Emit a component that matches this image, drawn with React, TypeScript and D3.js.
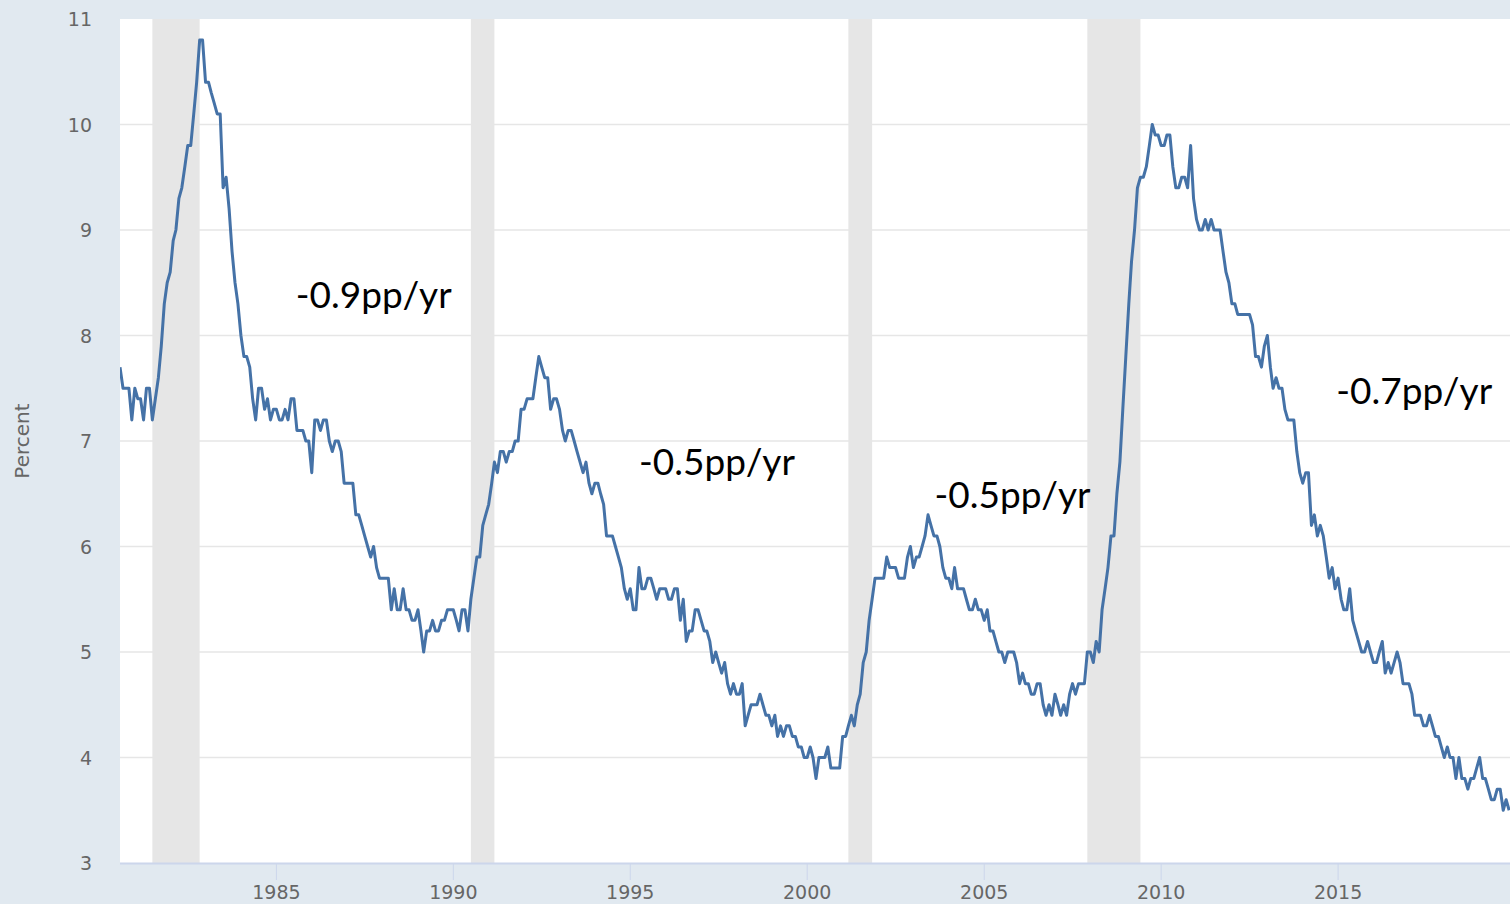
import React from "react";
import * as d3 from "d3";

const W = 1510;
const H = 904;

// Monthly unemployment rate, starting Aug 1980
const startYear = 1980;
const startMonth = 7; // August (0-based)
const rate1980 = [7.7, 7.5, 7.5, 7.5, 7.2];
const rate1981 = [7.5, 7.4, 7.4, 7.2, 7.5, 7.5, 7.2, 7.4, 7.6, 7.9, 8.3, 8.5];
const rate1982 = [8.6, 8.9, 9.0, 9.3, 9.4, 9.6, 9.8, 9.8, 10.1, 10.4, 10.8, 10.8];
const rate1983 = [10.4, 10.4, 10.3, 10.2, 10.1, 10.1, 9.4, 9.5, 9.2, 8.8, 8.5, 8.3];
const rate1984 = [8.0, 7.8, 7.8, 7.7, 7.4, 7.2, 7.5, 7.5, 7.3, 7.4, 7.2, 7.3];
const rate1985 = [7.3, 7.2, 7.2, 7.3, 7.2, 7.4, 7.4, 7.1, 7.1, 7.1, 7.0, 7.0];
const rate1986 = [6.7, 7.2, 7.2, 7.1, 7.2, 7.2, 7.0, 6.9, 7.0, 7.0, 6.9, 6.6];
const rate1987 = [6.6, 6.6, 6.6, 6.3, 6.3, 6.2, 6.1, 6.0, 5.9, 6.0, 5.8, 5.7];
const rate1988 = [5.7, 5.7, 5.7, 5.4, 5.6, 5.4, 5.4, 5.6, 5.4, 5.4, 5.3, 5.3];
const rate1989 = [5.4, 5.2, 5.0, 5.2, 5.2, 5.3, 5.2, 5.2, 5.3, 5.3, 5.4, 5.4];
const rate1990 = [5.4, 5.3, 5.2, 5.4, 5.4, 5.2, 5.5, 5.7, 5.9, 5.9, 6.2, 6.3];
const rate1991 = [6.4, 6.6, 6.8, 6.7, 6.9, 6.9, 6.8, 6.9, 6.9, 7.0, 7.0, 7.3];
const rate1992 = [7.3, 7.4, 7.4, 7.4, 7.6, 7.8, 7.7, 7.6, 7.6, 7.3, 7.4, 7.4];
const rate1993 = [7.3, 7.1, 7.0, 7.1, 7.1, 7.0, 6.9, 6.8, 6.7, 6.8, 6.6, 6.5];
const rate1994 = [6.6, 6.6, 6.5, 6.4, 6.1, 6.1, 6.1, 6.0, 5.9, 5.8, 5.6, 5.5];
const rate1995 = [5.6, 5.4, 5.4, 5.8, 5.6, 5.6, 5.7, 5.7, 5.6, 5.5, 5.6, 5.6];
const rate1996 = [5.6, 5.5, 5.5, 5.6, 5.6, 5.3, 5.5, 5.1, 5.2, 5.2, 5.4, 5.4];
const rate1997 = [5.3, 5.2, 5.2, 5.1, 4.9, 5.0, 4.9, 4.8, 4.9, 4.7, 4.6, 4.7];
const rate1998 = [4.6, 4.6, 4.7, 4.3, 4.4, 4.5, 4.5, 4.5, 4.6, 4.5, 4.4, 4.4];
const rate1999 = [4.3, 4.4, 4.2, 4.3, 4.2, 4.3, 4.3, 4.2, 4.2, 4.1, 4.1, 4.0];
const rate2000 = [4.0, 4.1, 4.0, 3.8, 4.0, 4.0, 4.0, 4.1, 3.9, 3.9, 3.9, 3.9];
const rate2001 = [4.2, 4.2, 4.3, 4.4, 4.3, 4.5, 4.6, 4.9, 5.0, 5.3, 5.5, 5.7];
const rate2002 = [5.7, 5.7, 5.7, 5.9, 5.8, 5.8, 5.8, 5.7, 5.7, 5.7, 5.9, 6.0];
const rate2003 = [5.8, 5.9, 5.9, 6.0, 6.1, 6.3, 6.2, 6.1, 6.1, 6.0, 5.8, 5.7];
const rate2004 = [5.7, 5.6, 5.8, 5.6, 5.6, 5.6, 5.5, 5.4, 5.4, 5.5, 5.4, 5.4];
const rate2005 = [5.3, 5.4, 5.2, 5.2, 5.1, 5.0, 5.0, 4.9, 5.0, 5.0, 5.0, 4.9];
const rate2006 = [4.7, 4.8, 4.7, 4.7, 4.6, 4.6, 4.7, 4.7, 4.5, 4.4, 4.5, 4.4];
const rate2007 = [4.6, 4.5, 4.4, 4.5, 4.4, 4.6, 4.7, 4.6, 4.7, 4.7, 4.7, 5.0];
const rate2008 = [5.0, 4.9, 5.1, 5.0, 5.4, 5.6, 5.8, 6.1, 6.1, 6.5, 6.8, 7.3];
const rate2009 = [7.8, 8.3, 8.7, 9.0, 9.4, 9.5, 9.5, 9.6, 9.8, 10.0, 9.9, 9.9];
const rate2010 = [9.8, 9.8, 9.9, 9.9, 9.6, 9.4, 9.4, 9.5, 9.5, 9.4, 9.8, 9.3];
const rate2011 = [9.1, 9.0, 9.0, 9.1, 9.0, 9.1, 9.0, 9.0, 9.0, 8.8, 8.6, 8.5];
const rate2012 = [8.3, 8.3, 8.2, 8.2, 8.2, 8.2, 8.2, 8.1, 7.8, 7.8, 7.7, 7.9];
const rate2013 = [8.0, 7.7, 7.5, 7.6, 7.5, 7.5, 7.3, 7.2, 7.2, 7.2, 6.9, 6.7];
const rate2014 = [6.6, 6.7, 6.7, 6.2, 6.3, 6.1, 6.2, 6.1, 5.9, 5.7, 5.8, 5.6];
const rate2015 = [5.7, 5.5, 5.4, 5.4, 5.6, 5.3, 5.2, 5.1, 5.0, 5.0, 5.1, 5.0];
const rate2016 = [4.9, 4.9, 5.0, 5.1, 4.8, 4.9, 4.8, 4.9, 5.0, 4.9, 4.7, 4.7];
const rate2017 = [4.7, 4.6, 4.4, 4.4, 4.4, 4.3, 4.3, 4.4, 4.3, 4.2, 4.2, 4.1];
const rate2018 = [4.0, 4.1, 4.0, 4.0, 3.8, 4.0, 3.8, 3.8, 3.7, 3.8, 3.8, 3.9];
const rate2019 = [4.0, 3.8, 3.8, 3.7, 3.6, 3.6, 3.7, 3.7, 3.5, 3.6, 3.5];

const allRates = [
  rate1980, rate1981, rate1982, rate1983, rate1984, rate1985, rate1986, rate1987,
  rate1988, rate1989, rate1990, rate1991, rate1992, rate1993, rate1994, rate1995,
  rate1996, rate1997, rate1998, rate1999, rate2000, rate2001, rate2002, rate2003,
  rate2004, rate2005, rate2006, rate2007, rate2008, rate2009, rate2010, rate2011,
  rate2012, rate2013, rate2014, rate2015, rate2016, rate2017, rate2018, rate2019,
].flat();

// Recessions [start year, start month(0-based), end year, end month]
const recessions = [
  [1981, 6, 1982, 10],
  [1990, 6, 1991, 2],
  [2001, 2, 2001, 10],
  [2007, 11, 2009, 5],
];

const yTicks = [3, 4, 5, 6, 7, 8, 9, 10, 11];
const xTickYears = [1985, 1990, 1995, 2000, 2005, 2010, 2015];

const annotationTexts = ["-0.9pp/yr", "-0.5pp/yr", "-0.5pp/yr", "-0.7pp/yr"];
const annotationYears = [1985.55, 1995.25, 2003.6, 2014.95];
const annotationValues = [8.26, 6.68, 6.365, 7.35];

const left = 120;
const right = 1510;
const top = 19;
const bottom = 863;

export default function App() {
  const data = allRates.map((v, i) => ({
    date: new Date(startYear, startMonth + i, 1),
    value: v,
  }));

  const x = d3
    .scaleTime()
    .domain([new Date(1980, 7, 1), new Date(2019, 10, 10)])
    .range([left, right]);
  const y = d3.scaleLinear().domain([3, 11]).range([bottom, top]);

  const yearToDate = (yr: number) => {
    const yi = Math.floor(yr);
    const start = new Date(yi, 0, 1).getTime();
    const end = new Date(yi + 1, 0, 1).getTime();
    return new Date(start + (yr - yi) * (end - start));
  };

  const line = d3
    .line<{ date: Date; value: number }>()
    .x((d) => x(d.date))
    .y((d) => y(d.value));

  return (
    <svg
      width={W}
      height={H}
      style={{ position: "fixed", left: 0, top: 0, display: "block" }}
    >
      <defs>
        <clipPath id="plotClip">
          <rect x={left} y={top - 5} width={right - left} height={bottom - top + 10} />
        </clipPath>
      </defs>
      <rect x={0} y={0} width={W} height={H} fill="#e1e9f0" />
      <rect x={left} y={top} width={right - left} height={bottom - top} fill="#ffffff" />
      {recessions.map((r, i) => (
        <rect
          key={i}
          x={x(new Date(r[0], r[1], 1))}
          y={top}
          width={x(new Date(r[2], r[3], 1)) - x(new Date(r[0], r[1], 1))}
          height={bottom - top}
          fill="#e6e6e6"
        />
      ))}
      {yTicks.map((t) => (
        <g key={t}>
          {t > 3 && t < 11 && (
            <line x1={left} x2={right} y1={y(t)} y2={y(t)} stroke="#e6e6e6" strokeWidth={1.5} />
          )}
          <text
            x={92}
            y={y(t)}
            textAnchor="end"
            dominantBaseline="central"
            fontFamily="DejaVu Sans"
            fontSize={19}
            fill="#666666"
          >
            {t}
          </text>
        </g>
      ))}
      <path
        d={line(data) || ""}
        fill="none"
        stroke="#4572a7"
        strokeWidth={3}
        strokeLinejoin="round"
        clipPath="url(#plotClip)"
      />
      <line x1={left} x2={right} y1={bottom + 0.5} y2={bottom + 0.5} stroke="#ccd6eb" strokeWidth={2} />
      {xTickYears.map((yr) => (
        <g key={yr}>
          <line
            x1={x(new Date(yr, 0, 1))}
            x2={x(new Date(yr, 0, 1))}
            y1={bottom}
            y2={880}
            stroke="#ccd6eb"
            strokeWidth={1}
          />
          <text
            x={x(new Date(yr, 0, 1))}
            y={899}
            textAnchor="middle"
            fontFamily="DejaVu Sans"
            fontSize={19}
            fill="#666666"
          >
            {yr}
          </text>
        </g>
      ))}
      <text
        transform={`translate(29, 441) rotate(-90)`}
        textAnchor="middle"
        fontFamily="DejaVu Sans"
        fontSize={20}
        fill="#666666"
      >
        Percent
      </text>
      {annotationTexts.map((t, i) => (
        <text
          key={i}
          x={x(yearToDate(annotationYears[i]))}
          y={y(annotationValues[i])}
          fontFamily="Lato"
          fontSize={37}
          fill="#000000"
        >
          {t}
        </text>
      ))}
    </svg>
  );
}
